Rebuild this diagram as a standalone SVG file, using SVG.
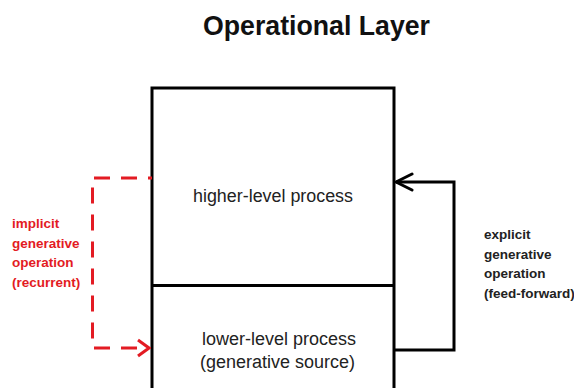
<svg xmlns="http://www.w3.org/2000/svg" width="574" height="390" viewBox="0 0 574 390">
  <style>
    .title { font-family: "Liberation Sans", Arial, sans-serif; font-weight: bold; font-size: 28px; fill: #111; }
    .box { fill: none; stroke: #000; stroke-width: 3; }
    .label { font-family: "Liberation Sans", Arial, sans-serif; font-size: 18px; fill: #222; }
    .side { font-family: "Liberation Sans", Arial, sans-serif; font-weight: bold; font-size: 13.5px; }
    .red { fill: #e31b23; }
    .dark { fill: #222; }
    .conn-black { fill: none; stroke: #000; stroke-width: 3; }
    .conn-red { fill: none; stroke: #e31b23; stroke-width: 3; stroke-dasharray: 16 11; stroke-dashoffset: 12; }
  </style>
  <defs>
    <marker id="arrowBlack" markerUnits="userSpaceOnUse" markerWidth="20" markerHeight="22" viewBox="0 0 20 22" refX="18" refY="11" orient="auto">
      <path d="M2,3 L18,11 L2,19" fill="none" stroke="#000" stroke-width="3" stroke-linecap="round" stroke-linejoin="round"/>
    </marker>
    <marker id="arrowRed" markerUnits="userSpaceOnUse" markerWidth="16" markerHeight="22" viewBox="0 0 16 22" refX="14" refY="11" orient="auto">
      <path d="M3,3 L14,11 L3,19" fill="none" stroke="#e31b23" stroke-width="3" stroke-dasharray="none" stroke-linejoin="miter"/>
    </marker>
  </defs>

  <rect width="574" height="390" fill="#fff"/>

  <text class="title" x="316.5" y="35" text-anchor="middle" textLength="227" lengthAdjust="spacingAndGlyphs">Operational Layer</text>

  <g id="higher-level">
    <path class="box" d="M152,388 V88 H394 V388"/>
    <text class="label" x="273" y="202" text-anchor="middle" textLength="160" lengthAdjust="spacingAndGlyphs">higher-level process</text>
  </g>

  <g id="lower-level">
    <line class="box" x1="152" y1="285.5" x2="394" y2="285.5"/>
    <text class="label" x="279" y="345" text-anchor="middle" textLength="154" lengthAdjust="spacingAndGlyphs">lower-level process</text>
    <text class="label" x="277.5" y="368" text-anchor="middle" textLength="155" lengthAdjust="spacingAndGlyphs">(generative source)</text>
  </g>

  <g id="connectors">
    <path class="conn-black" d="M394,350 H454 V182 H396" marker-end="url(#arrowBlack)"/>
    <path class="conn-red" d="M152,178 H92.5 V348 H149" marker-end="url(#arrowRed)"/>
  </g>

  <g id="implicit-label">
    <text class="side red" x="12" y="228">implicit</text>
    <text class="side red" x="12" y="247.5">generative</text>
    <text class="side red" x="12" y="267">operation</text>
    <text class="side red" x="12" y="286.5">(recurrent)</text>
  </g>

  <g id="explicit-label">
    <text class="side dark" x="484" y="239">explicit</text>
    <text class="side dark" x="484" y="258.5">generative</text>
    <text class="side dark" x="484" y="278">operation</text>
    <text class="side dark" x="484" y="297.5">(feed-forward)</text>
  </g>
</svg>
